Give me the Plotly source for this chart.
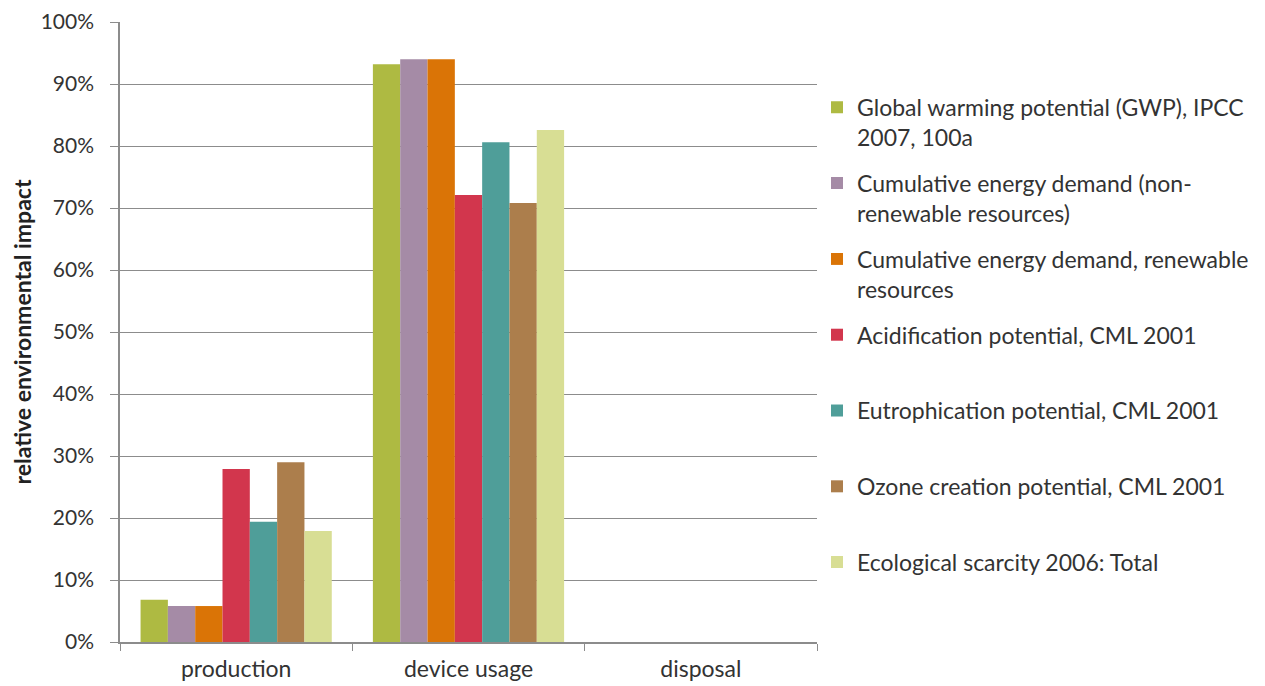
import plotly.graph_objects as go

categories = ["production", "device usage", "disposal"]

series_names = [
    "Global warming potential (GWP), IPCC<br>2007, 100a",
    "Cumulative energy demand (non-<br>renewable resources)",
    "Cumulative energy demand, renewable<br>resources",
    "Acidification potential, CML 2001",
    "Eutrophication potential, CML 2001",
    "Ozone creation potential, CML 2001",
    "Ecological scarcity 2006: Total",
]

gwp = [0.068, 0.932, 0.0]
ced_nonrenew = [0.058, 0.940, 0.0]
ced_renew = [0.058, 0.940, 0.0]
acidification = [0.279, 0.721, 0.0]
eutrophication = [0.194, 0.806, 0.0]
ozone = [0.290, 0.708, 0.0]
eco_scarcity = [0.179, 0.826, 0.0]

series_values = [gwp, ced_nonrenew, ced_renew, acidification, eutrophication, ozone, eco_scarcity]

colors = ["#AEBA42", "#A58BA6", "#DA7406", "#D2364D", "#4F9E99", "#AC7E4C", "#D8DE94"]

y_tickvals = [0, 0.1, 0.2, 0.3, 0.4, 0.5, 0.6, 0.7, 0.8, 0.9, 1.0]

fig = go.Figure()
for i, (name, vals, col) in enumerate(zip(series_names, series_values, colors)):
    # every legend entry occupies two text lines so the slots are evenly spaced
    label = name if "<br>" in name else name + "<br>&nbsp;"
    fig.add_trace(go.Bar(
        x=categories, y=vals, name=label,
        marker=dict(color=col, line=dict(width=0)),
        legendgroup=f"g{i}",
    ))

font_family = "Lato, 'Open Sans', sans-serif"
fig.update_layout(
    width=1265, height=686,
    margin=dict(l=112, r=456, t=14, b=52),
    paper_bgcolor="white", plot_bgcolor="white",
    barmode="group", bargap=0.177, bargroupgap=0,
    font=dict(family=font_family, size=23, color="#333333"),
    showlegend=True,
    legend=dict(
        x=1.0, xanchor="left", y=0.897, yanchor="top",
        font=dict(size=23, color="#333333"),
        tracegroupgap=13, valign="top",
        itemwidth=30, bgcolor="rgba(0,0,0,0)",
    ),
    xaxis=dict(
        showline=True, linecolor="#8C8C8C", linewidth=1.5,
        ticks="outside", tickson="boundaries", ticklen=7, tickcolor="#8C8C8C",
        tickfont=dict(size=23, color="#333333"),
        ticklabelstandoff=6,
        showgrid=False, automargin=False,
    ),
    yaxis=dict(
        range=[0, 1], tickvals=y_tickvals, tickformat=".0%",
        showline=True, linecolor="#8C8C8C", linewidth=1.5,
        ticks="outside", ticklen=8, tickcolor="#8C8C8C",
        showgrid=True, gridcolor="#8C8C8C", gridwidth=1.2,
        zeroline=False, automargin=False,
        ticklabelstandoff=12,
        tickfont=dict(size=21, color="#333333"),
        title=dict(text="<b>relative environmental impact</b>", font=dict(size=23, color="#222222"), standoff=5),
    ),
)

fig.write_html("out.html")
